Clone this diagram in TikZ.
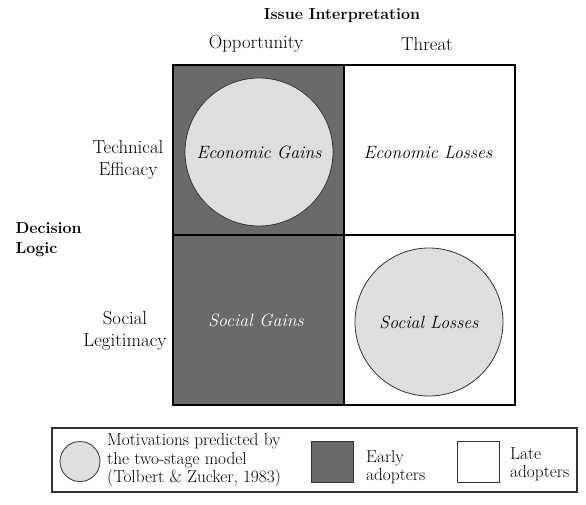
\documentclass[tikz,border=0pt]{standalone}
\usepackage{tikz}

\definecolor{earlycell}{HTML}{6A6A6A}
\definecolor{motivefill}{HTML}{DEDEDE}

\begin{document}
\begin{tikzpicture}[x=1pt, y=-1pt,
    head/.style={font=\fontsize{16}{20}\selectfont\bfseries, align=left},
    label/.style={font=\fontsize{18.8}{21.5}\selectfont, align=center},
    cell/.style={rectangle, draw=black, line width=1.6pt, minimum width=171pt, minimum height=170pt, inner sep=0pt},
    motive/.style={circle, draw=black!80, line width=0.8pt, fill=motivefill, inner sep=0pt, font=\fontsize{17.8}{21}\selectfont\itshape},
    legtext/.style={font=\fontsize{17.3}{18.4}\selectfont, align=left, anchor=west, inner sep=0pt},
    legbox/.style={rectangle, draw=black!80, line width=1pt, minimum width=42pt, minimum height=41pt, inner sep=0pt}
]
\useasboundingbox (0,0) rectangle (586,504);

% Header
\node[head] (issue) at (342,16) {Issue Interpretation};
\node[label] (opp) at (256,44) {Opportunity};
\node[label] (threat) at (427,44) {Threat};

% Row labels
\node[label] (tech) at (128,160) {Technical\\Efficacy};
\node[label] (soc) at (125,331) {Social\\Legitimacy};
\node[head, anchor=west] (logic) at (12,240) {Decision\\Logic};

% Matrix cells
\node[cell, fill=earlycell] (egain) at (258.5,150) {};
\node[cell, fill=white] (eloss) at (429.5,150) {};
\node[cell, fill=earlycell] (sgain) at (258.5,320) {};
\node[cell, fill=white] (sloss) at (429.5,320) {};

% Cell texts
\node[motive, minimum size=148pt] (egaintxt) at (259,152) {Economic Gains};
\node[label, font=\fontsize{17.8}{21}\selectfont\itshape] (elosstxt) at (428,153) {Economic Losses};
\node[label, font=\fontsize{17.8}{21}\selectfont\itshape, text=white] (sgaintxt) at (256,320) {Social Gains};
\node[motive, minimum size=148pt] (slosstxt) at (429,322) {Social Losses};

% Legend
\node[rectangle, draw=black!80, line width=1.2pt, minimum width=525pt, minimum height=64pt] (legend) at (314.5,460) {};
\node[motive, minimum size=40pt] (legcirc) at (80,461.5) {};
\node[legtext] (legcirctxt) at (107,460.5) {Motivations predicted by\\the two-stage model\\(Tolbert \& Zucker, 1983)};
\node[legbox, fill=earlycell] (legearly) at (332,461.5) {};
\node[legtext] (legearlytxt) at (366,467) {Early\\adopters};
\node[legbox, fill=white] (leglate) at (478,461.5) {};
\node[legtext] (leglatetxt) at (510,464.5) {Late\\adopters};
\end{tikzpicture}
\end{document}
